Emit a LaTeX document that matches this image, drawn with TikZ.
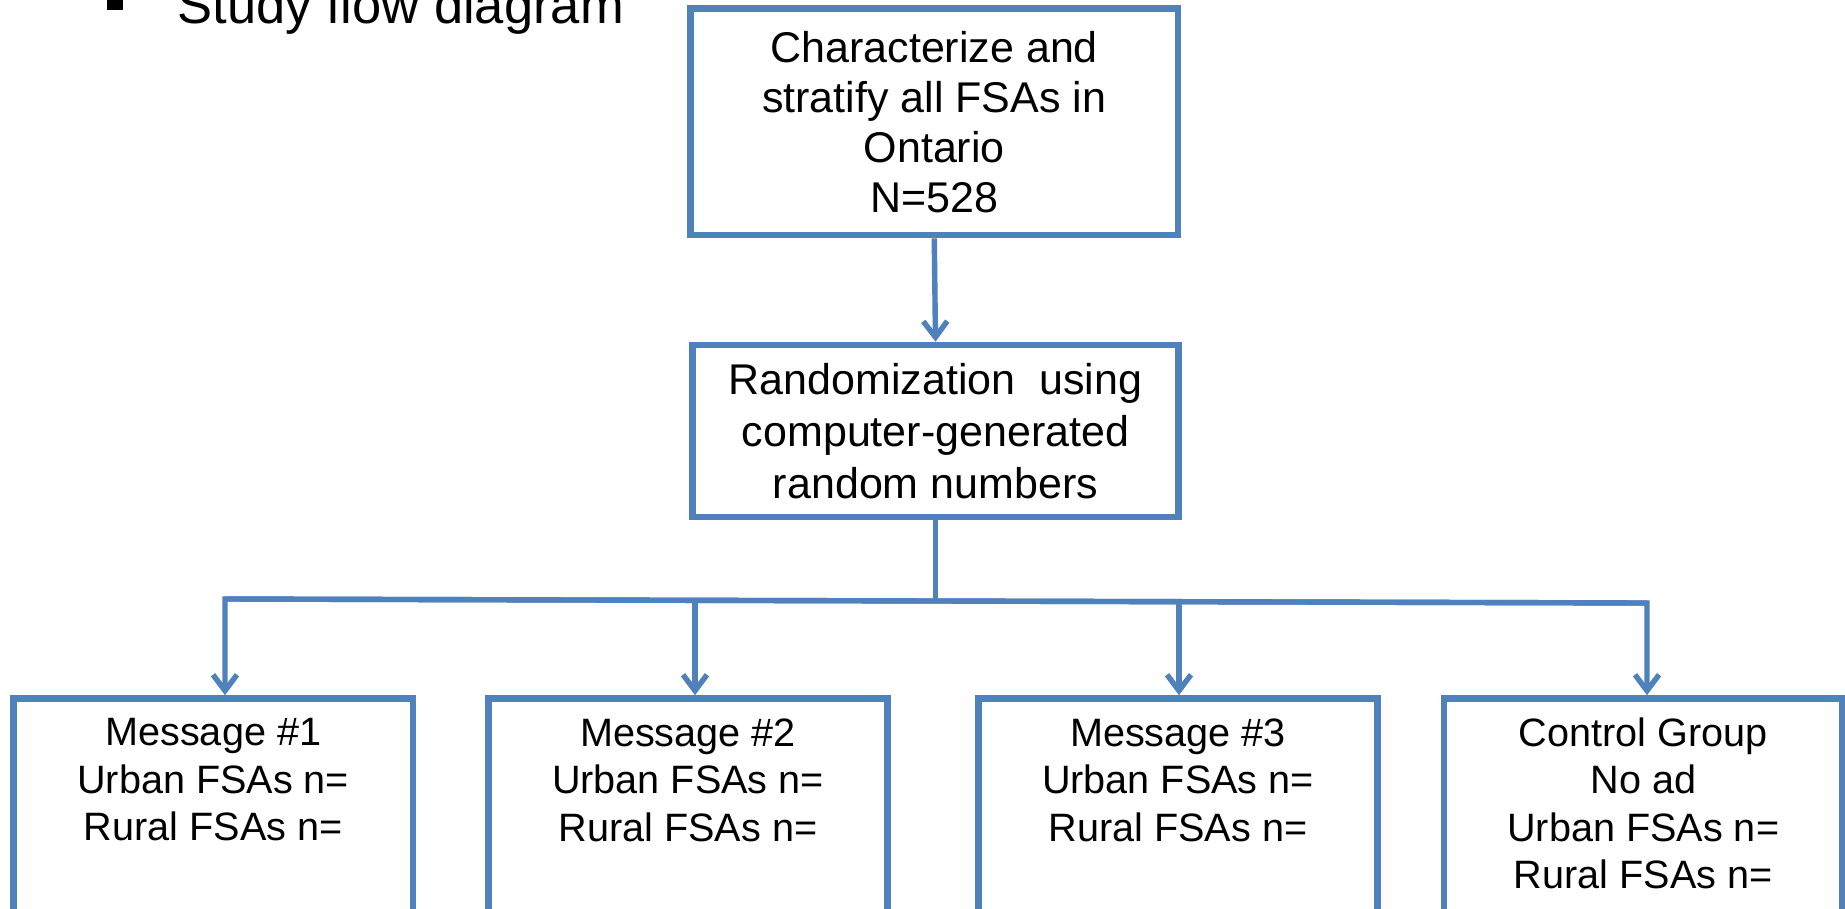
\documentclass[tikz,border=0pt]{standalone}
\usepackage{fontspec}
\setmainfont{Liberation Sans}
\usetikzlibrary{arrows.meta,calc}
\definecolor{pblue}{HTML}{4F81BD}
\begin{document}
\begin{tikzpicture}[x=0.5pt, y=-0.5pt,
  box/.style={draw=pblue, line width=3.3pt, rectangle, inner sep=0pt, align=center,
    font=\fontsize{21.5pt}{25pt}\selectfont},
  bbox/.style={draw=pblue, line width=3.3pt, rectangle, inner sep=0pt,
    minimum height=120.75pt},
  btxt/.style={inner sep=0pt, align=center, anchor=north,
    font=\fontsize{19.8pt}{23.75pt}\selectfont},
  conn/.style={draw=pblue, line width=2.7pt},
  arr/.style={conn, -{Straight Barb[length=8pt,width=12pt]}}]
\useasboundingbox (0,0) rectangle (1845,909);
\fill[white] (0,0) rectangle (1845,909);
\clip (0,0) rectangle (1845,909);

% title
\node[fill=black, minimum size=8pt, inner sep=0pt] (bullet) at (115,2) {};
\node[anchor=base west, inner sep=0pt, font=\fontsize{26.25pt}{30pt}\selectfont] (title) at (177,24) {Study flow diagram};

% upper boxes
\node[box, minimum width=243.75pt, minimum height=113.25pt] (top) at (934.25,121.75)
  {Characterize and\\stratify all FSAs in\\Ontario\\N=528};
\node[box, font=\fontsize{21.5pt}{26pt}\selectfont, minimum width=243.25pt, minimum height=86pt] (rand) at (935.5,431)
  {Randomization\ \ using\\computer-generated\\random numbers};

% lower boxes
\node[bbox, minimum width=199.75pt] (b1) at (213.25,819.25) {};
\node[bbox, minimum width=199.5pt] (b2) at (688,819.25) {};
\node[bbox, minimum width=199.5pt] (b3) at (1178,819.25) {};
\node[bbox, minimum width=199.25pt] (b4) at (1643.25,819.25) {};

\node[btxt] (t1) at ([yshift=-11.5pt]b1.north) {Message \#1\\Urban FSAs n=\\Rural FSAs n=};
\node[btxt] (t2) at ([yshift=-11.5pt]b2.north) {Message \#2\\Urban FSAs n=\\Rural FSAs n=};
\node[btxt] (t3) at ([yshift=-11.5pt]b3.north) {Message \#3\\Urban FSAs n=\\Rural FSAs n=};
\node[btxt] (t4) at ([yshift=-11pt]b4.north) {Control Group\\No ad\\Urban FSAs n=\\Rural FSAs n=};

% connectors
\coordinate (hl) at (225,599);
\coordinate (hr) at (1647,603);
\coordinate (j2) at (695,600.3);
\coordinate (j3) at (1179,601.7);

\draw[arr] (top.south) -- (rand.north);
\draw[conn] (rand.south) -- (rand.south |- j3);
\draw[arr] (hr) -- (hl) -- (hl |- b1.north);
\draw[arr] (hl) -- (hr) -- (hr |- b4.north);
\draw[arr] (j2) -- (j2 |- b2.north);
\draw[arr] (j3) -- (j3 |- b3.north);
\end{tikzpicture}
\end{document}
